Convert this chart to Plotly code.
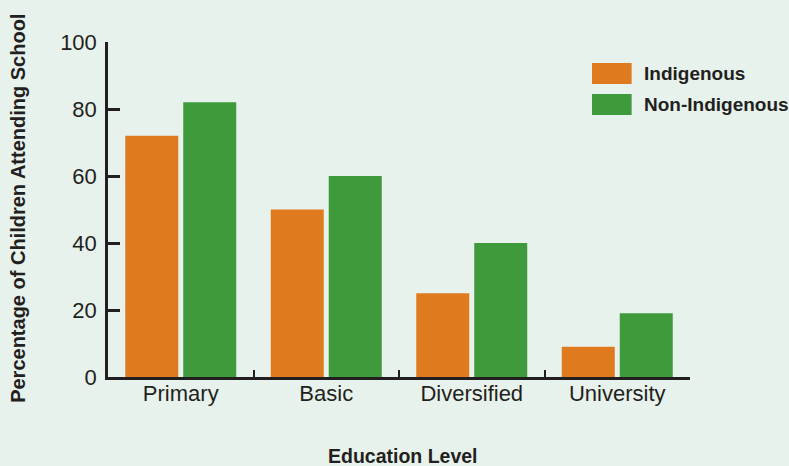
import plotly.graph_objects as go

categories = ["Primary", "Basic", "Diversified", "University"]
indigenous = [72, 50, 25, 9]
non_indigenous = [82, 60, 40, 19]
y_ticks = [0, 20, 40, 60, 80, 100]

BG = "#e8f2ec"
ORANGE = "#e07a1e"
GREEN = "#3f9a3b"
INK = "#231f20"
FONT = "Liberation Sans, Arial, Helvetica, sans-serif"

fig = go.Figure()
fig.add_trace(go.Bar(x=categories, y=indigenous, name="Indigenous",
                     marker=dict(color=ORANGE, line=dict(width=0))))
fig.add_trace(go.Bar(x=categories, y=non_indigenous, name="Non-Indigenous",
                     marker=dict(color=GREEN, line=dict(width=0))))

fig.update_layout(
    width=789, height=466,
    margin=dict(l=108, r=99, t=42, b=89),
    paper_bgcolor=BG, plot_bgcolor=BG,
    barmode="group", bargap=0.203, bargroupgap=0.086,
    showlegend=False,
    font=dict(family=FONT, color=INK),
)
fig.update_xaxes(
    range=[-0.5, 3.5], showgrid=False, zeroline=False,
    showline=True, linecolor=INK, linewidth=2.5,
    ticks="inside", tickson="boundaries", ticklen=7, tickwidth=2, tickcolor=INK,
    tickfont=dict(size=22, color=INK), ticklabelstandoff=-5,
)
fig.update_yaxes(
    range=[0, 100], tickvals=y_ticks, showgrid=False, zeroline=False,
    showline=True, linecolor=INK, linewidth=2.5,
    ticks="inside", ticklen=12, tickwidth=2.5, tickcolor=INK,
    tickfont=dict(size=22, color=INK), ticklabelstandoff=4,
)

# axis titles
fig.add_annotation(text="<b>Percentage of Children Attending School</b>",
                   xref="paper", yref="paper", x=-0.154, y=0.503,
                   textangle=-90, showarrow=False, font=dict(size=20, color=INK),
                   xanchor="center", yanchor="middle")
fig.add_annotation(text="<b>Education Level</b>",
                   xref="paper", yref="paper", x=0.5069, y=-0.2358,
                   showarrow=False, font=dict(size=19.5, color=INK),
                   xanchor="center", yanchor="middle")

# legend drawn manually
legend_items = [("Indigenous", ORANGE, 0.8746, 0.9373),
                ("Non-Indigenous", GREEN, 0.7821, 0.8448)]
for label, col, y0, y1 in legend_items:
    fig.add_shape(type="rect", xref="paper", yref="paper",
                  x0=0.8316, x1=0.8997, y0=y0, y1=y1,
                  fillcolor=col, line=dict(width=0))
    fig.add_annotation(text=f"<b>{label}</b>", xref="paper", yref="paper",
                       x=0.9175, y=(y0 + y1) / 2, xanchor="left", yanchor="middle",
                       showarrow=False, font=dict(size=19, color=INK))

fig.write_html("out.html")
